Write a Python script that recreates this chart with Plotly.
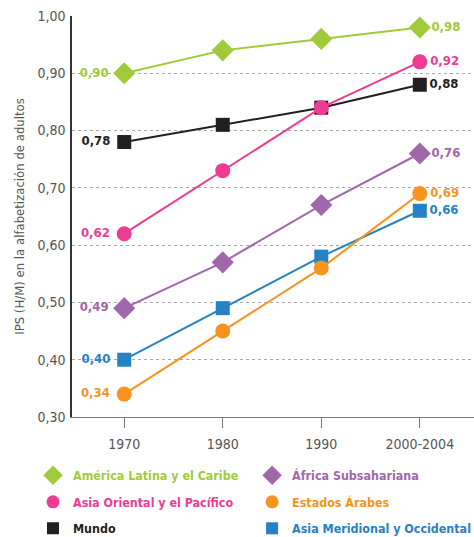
import plotly.graph_objects as go

years = ["1970", "1980", "1990", "2000-2004"]
y_ticks = [0.30, 0.40, 0.50, 0.60, 0.70, 0.80, 0.90, 1.00]

series_names = [
    "América Latina y el Caribe",
    "África Subsahariana",
    "Asia Oriental y el Pacífico",
    "Estados Árabes",
    "Mundo",
    "Asia Meridional y Occidental",
]
america_latina = [0.90, 0.94, 0.96, 0.98]
africa_sub = [0.49, 0.57, 0.67, 0.76]
asia_oriental = [0.62, 0.73, 0.84, 0.92]
estados_arabes = [0.34, 0.45, 0.56, 0.69]
mundo = [0.78, 0.81, 0.84, 0.88]
asia_meridional = [0.40, 0.49, 0.58, 0.66]

values = [america_latina, africa_sub, asia_oriental, estados_arabes, mundo, asia_meridional]
colors = ["#9fcb3b", "#a067ab", "#ec3d93", "#f7941d", "#231f20", "#2582c5"]
symbols = ["diamond", "diamond", "circle", "circle", "square", "square"]
sizes = [17, 17, 15, 15, 14, 14]
legend_ids = ["legend", "legend2", "legend", "legend2", "legend", "legend2"]

FONT = "DejaVu Sans Condensed, DejaVu Sans, sans-serif"

def fmt(v):
    return f"{v:.2f}".replace(".", ",")

fig = go.Figure()
draw_order = [5, 3, 1, 4, 2, 0]
for i in draw_order:
    vals = values[i]
    texts = [fmt(vals[0]) + " ", "", "", fmt(vals[-1])]
    fig.add_trace(go.Scatter(
        x=years, y=vals, mode="lines+markers+text",
        line=dict(color=colors[i], width=2),
        marker=dict(symbol=symbols[i], size=sizes[i], color=colors[i], line=dict(width=0)),
        text=texts,
        textposition=["middle left", "middle center", "middle center", "middle right"],
        textfont=dict(family=FONT, size=13, color=colors[i], weight="bold"),
        showlegend=False, cliponaxis=False, hoverinfo="skip",
    ))

for i in range(6):
    fig.add_trace(go.Scatter(
        x=[None], y=[None], mode="markers",
        marker=dict(symbol=symbols[i], size=sizes[i] - 2, color=colors[i]),
        name=f"<span style='color:{colors[i]}'><b>{series_names[i]}</b></span>",
        showlegend=True, legend=legend_ids[i], legendgroup=f"g{i}",
    ))

legend_common = dict(
    orientation="v", yanchor="top", xanchor="left", y=-0.109,
    font=dict(family=FONT, size=12.4), itemsizing="trace",
    tracegroupgap=7.4, bgcolor="rgba(0,0,0,0)",
)

fig.update_layout(
    width=474, height=537,
    margin=dict(l=72, r=0, t=16, b=120, autoexpand=False),
    plot_bgcolor="white", paper_bgcolor="white",
    separators=",.",
    font=dict(family=FONT, size=14, color="#555555"),
    xaxis=dict(
        type="category", range=[-0.53, 3.55], automargin=False,
        showgrid=False, showline=True, linecolor="#777777", linewidth=1,
        ticks="outside", ticklen=10, tickcolor="#777777", ticklabelstandoff=4,
        tickfont=dict(family=FONT, size=14, color="#555555"),
        zeroline=False,
    ),
    yaxis=dict(
        range=[0.30, 1.00], tickvals=y_ticks, tickformat=".2f", automargin=False,
        showgrid=True, gridcolor="#aaaaaa", griddash="dot", gridwidth=1,
        showline=True, linecolor="#333333", linewidth=1.5,
        ticks="", ticklabelstandoff=2,
        tickfont=dict(family=FONT, size=14, color="#555555"),
        zeroline=False,
        title=dict(text="IPS (H/M) en la alfabetización de adultos",
                   font=dict(family=FONT, size=13, color="#555555"), standoff=10),
    ),
    legend=dict(legend_common, x=-0.097),
    legend2=dict(legend_common, x=0.448),
)

fig.write_html(
    "out.html",
    config={"displayModeBar": False},
    post_script="document.body.style.margin='0';document.body.style.overflow='hidden';",
)
